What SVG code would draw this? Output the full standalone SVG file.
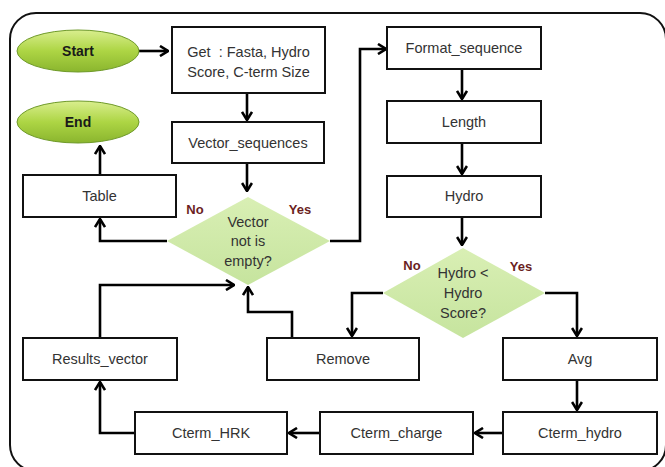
<svg xmlns="http://www.w3.org/2000/svg" width="665" height="467" viewBox="0 0 665 467">
<defs>
<style>
.box{fill:#fff;stroke:#111;stroke-width:2}
.t{font-family:"Liberation Sans",Arial,sans-serif;font-size:14.5px;fill:#333;text-anchor:middle}
.tb{font-family:"Liberation Sans",Arial,sans-serif;font-size:14px;font-weight:bold;fill:#1a1a1a;text-anchor:middle}
.lbl{font-family:"Liberation Sans",Arial,sans-serif;font-size:13px;font-weight:bold;fill:#6b1f1f;text-anchor:middle}
.c{fill:none;stroke:#000;stroke-width:2.6;marker-end:url(#ah)}
.ell{fill:url(#gE);stroke:#6f9a2a;stroke-width:1}
.dia{fill:url(#gD);stroke:none}
</style>
<linearGradient id="gE" x1="0" y1="0" x2="0" y2="1">
<stop offset="0" stop-color="#d9ee8e"/>
<stop offset="0.5" stop-color="#add544"/>
<stop offset="1" stop-color="#8ab52e"/>
</linearGradient>
<linearGradient id="gD" x1="0" y1="0" x2="0" y2="1">
<stop offset="0" stop-color="#d9efb4"/>
<stop offset="1" stop-color="#c6e49e"/>
</linearGradient>
<marker id="ah" viewBox="0 0 10 12" refX="9" refY="6" markerWidth="10" markerHeight="12" markerUnits="userSpaceOnUse" orient="auto">
<path d="M1,1 L9,6 L1,11" fill="none" stroke="#000" stroke-width="2.6"/>
</marker>
</defs>
<rect x="0" y="0" width="665" height="467" fill="#fff"/>
<rect x="10" y="13" width="656" height="458" rx="26" ry="26" fill="none" stroke="#111" stroke-width="2"/>

<g id="connectors">
<path class="c" d="M138,51 L168,51"/>
<path class="c" d="M247,93 L247,120"/>
<path class="c" d="M247,163 L247,191"/>
<path class="c" d="M167,241 L100,241 L100,219"/>
<path class="c" d="M100,175 L100,146"/>
<path class="c" d="M330,241 L360,241 L360,49 L386,49"/>
<path class="c" d="M462,69 L462,99"/>
<path class="c" d="M462,143 L462,174"/>
<path class="c" d="M462,217 L462,245"/>
<path class="c" d="M383,293 L352,293 L352,336"/>
<path class="c" d="M545,293 L577,293 L577,336"/>
<path class="c" d="M577,380 L577,410"/>
<path class="c" d="M503,433 L475,433"/>
<path class="c" d="M320,433 L289,433"/>
<path class="c" d="M135,433 L100,433 L100,382"/>
<path class="c" d="M100,338 L100,285 L234,285"/>
<path class="c" d="M292,338 L292,312 L248,312 L248,287"/>
</g>

<g id="start"><ellipse class="ell" cx="78" cy="51" rx="61" ry="21"/><text class="tb" x="78" y="56">Start</text></g>
<g id="end"><ellipse class="ell" cx="78" cy="122" rx="61" ry="21"/><text class="tb" x="78" y="127">End</text></g>
<g id="get"><rect class="box" x="172" y="27" width="153" height="66"/><text class="t" x="248.5" y="57" xml:space="preserve">Get  : Fasta, Hydro</text><text class="t" x="248.5" y="77">Score, C-term Size</text></g>
<g id="vector_sequences"><rect class="box" x="172" y="122" width="152" height="41"/><text class="t" x="248" y="148">Vector_sequences</text></g>
<g id="table"><rect class="box" x="23" y="175" width="153" height="42"/><text class="t" x="99.5" y="201">Table</text></g>
<g id="decision1"><polygon class="dia" points="248,197 330,241 248,285 167,241"/><text class="t" x="248" y="227">Vector</text><text class="t" x="248" y="246">not is</text><text class="t" x="248" y="266">empty?</text><text class="lbl" x="195" y="214">No</text><text class="lbl" x="300" y="214">Yes</text></g>
<g id="format_sequence"><rect class="box" x="387" y="27" width="154" height="42"/><text class="t" x="464" y="53">Format_sequence</text></g>
<g id="length"><rect class="box" x="387" y="101" width="154" height="42"/><text class="t" x="464" y="127">Length</text></g>
<g id="hydro"><rect class="box" x="387" y="176" width="154" height="41"/><text class="t" x="464" y="201">Hydro</text></g>
<g id="decision2"><polygon class="dia" points="463,248 545,293 463,338 383,293"/><text class="t" x="463" y="278">Hydro &lt;</text><text class="t" x="463" y="298">Hydro</text><text class="t" x="463" y="318">Score?</text><text class="lbl" x="412" y="270">No</text><text class="lbl" x="521" y="271">Yes</text></g>
<g id="remove"><rect class="box" x="267" y="338" width="152" height="42"/><text class="t" x="343" y="364">Remove</text></g>
<g id="avg"><rect class="box" x="503" y="338" width="154" height="42"/><text class="t" x="580" y="364">Avg</text></g>
<g id="results_vector"><rect class="box" x="23" y="338" width="154" height="42"/><text class="t" x="100" y="364">Results_vector</text></g>
<g id="cterm_hydro"><rect class="box" x="503" y="412" width="154" height="42"/><text class="t" x="580" y="438">Cterm_hydro</text></g>
<g id="cterm_charge"><rect class="box" x="320" y="412" width="153" height="42"/><text class="t" x="396.5" y="438">Cterm_charge</text></g>
<g id="cterm_hrk"><rect class="box" x="135" y="412" width="152" height="42"/><text class="t" x="211" y="438">Cterm_HRK</text></g>
</svg>
